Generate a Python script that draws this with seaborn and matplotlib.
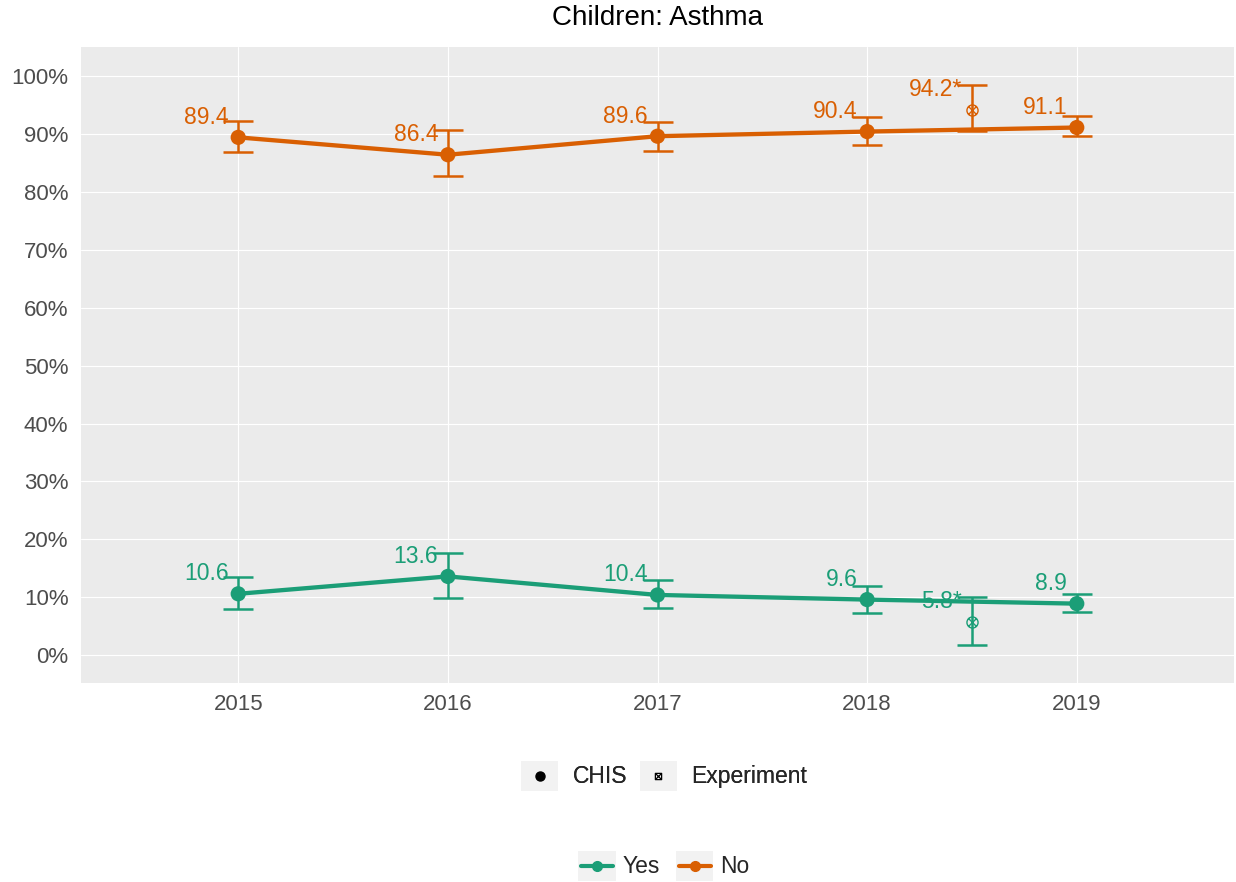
import numpy as np
import pandas as pd
import matplotlib
matplotlib.use("Agg")
import matplotlib.pyplot as plt
import seaborn as sns
from matplotlib.path import Path
from matplotlib.lines import Line2D
from matplotlib.patches import Rectangle
from matplotlib.legend_handler import HandlerBase

# ---- data -------------------------------------------------------------
years = [2015, 2016, 2017, 2018, 2019]
yes_vals = [10.6, 13.6, 10.4, 9.6, 8.9]
yes_lo = [7.9, 9.8, 8.1, 7.3, 7.4]
yes_hi = [13.5, 17.6, 13.0, 11.9, 10.5]
no_vals = [89.4, 86.4, 89.6, 90.4, 91.1]
no_lo = [86.9, 82.7, 87.0, 88.1, 89.6]
no_hi = [92.2, 90.7, 92.1, 92.9, 93.1]

exp_x = 2018.5
exp_yes = 5.8
exp_yes_ci = (1.7, 10.0)
exp_no = 94.2
exp_no_ci = (90.5, 98.4)

y_ticks = [0, 10, 20, 30, 40, 50, 60, 70, 80, 90, 100]
groups = ["Yes", "No"]
colors = {"Yes": "#1B9E77", "No": "#D95F02"}

df = pd.DataFrame({
    "year": years * 2,
    "pct": yes_vals + no_vals,
    "lo": yes_lo + no_lo,
    "hi": yes_hi + no_hi,
    "group": ["Yes"] * len(years) + ["No"] * len(years),
})

# ---- style ------------------------------------------------------------
sns.set_theme(style="darkgrid", rc={
    "axes.facecolor": "#EBEBEB",
    "grid.color": "white",
    "grid.linewidth": 0.8,
    "axes.edgecolor": "#EBEBEB",
})
plt.rcParams["font.family"] = ["Liberation Sans", "DejaVu Sans"]

TICK_FS = 16
LABEL_FS = 16.5
LEGEND_FS = 16.5
TITLE_FS = 20

DPI = 100
fig = plt.figure(figsize=(12.36, 8.82), dpi=DPI)
W, H = 1236, 882
ax = fig.add_axes([81 / W, 1 - 683 / H, (1234 - 81) / W, (683 - 47) / H])

# circle with a cross, used for the experiment estimates
circle_x = Path.make_compound_path(
    Path.unit_circle(),
    Path([(-0.707, -0.707), (0.707, 0.707)], [Path.MOVETO, Path.LINETO]),
    Path([(-0.707, 0.707), (0.707, -0.707)], [Path.MOVETO, Path.LINETO]),
)
square_x = Path([(-1, -1), (1, -1), (1, 1), (-1, 1), (-1, -1),
                 (-1, -1), (1, 1), (-1, 1), (1, -1)],
                [Path.MOVETO, Path.LINETO, Path.LINETO, Path.LINETO, Path.CLOSEPOLY,
                 Path.MOVETO, Path.LINETO, Path.MOVETO, Path.LINETO])

sns.lineplot(data=df, x="year", y="pct", hue="group", hue_order=groups,
             palette=colors, linewidth=3.1, legend=False, ax=ax, zorder=3)
sns.scatterplot(data=df, x="year", y="pct", hue="group", hue_order=groups,
                palette=colors, s=120, edgecolor="none", legend=False, ax=ax, zorder=4)

for g in groups:
    sub = df[df["group"] == g]
    ax.errorbar(sub["year"], sub["pct"],
                yerr=[sub["pct"] - sub["lo"], sub["hi"] - sub["pct"]],
                fmt="none", ecolor=colors[g], elinewidth=1.8, capsize=11,
                capthick=1.8, zorder=3)
    for x, v in zip(sub["year"], sub["pct"]):
        ax.annotate(f"{v:.1f}", (x, v), xytext=(-7, 14.5), textcoords="offset points",
                    ha="right", va="center", color=colors[g], fontsize=LABEL_FS, zorder=5)

for g, v, ci in [("Yes", exp_yes, exp_yes_ci), ("No", exp_no, exp_no_ci)]:
    ax.errorbar([exp_x], [v], yerr=[[v - ci[0]], [ci[1] - v]], fmt="none",
                ecolor=colors[g], elinewidth=1.8, capsize=11, capthick=1.8, zorder=3)
    ax.plot([exp_x], [v], linestyle="none", marker=circle_x, markersize=8,
            markerfacecolor="none", markeredgecolor=colors[g], markeredgewidth=1.0,
            zorder=4)
    ax.annotate(f"{v:.1f}*", (exp_x, v), xytext=(-7, 14.5), textcoords="offset points",
                ha="right", va="center", color=colors[g], fontsize=LABEL_FS, zorder=5)

ax.set_xlim(2014.25, 2019.75)
ax.set_ylim(-4.8, 105.0)
ax.set_xticks(years)
ax.set_xticklabels([str(y) for y in years])
ax.set_yticks(y_ticks)
ax.set_yticklabels([f"{t}%" for t in y_ticks])
ax.tick_params(axis="both", length=0, labelsize=TICK_FS, labelcolor="#4D4D4D")
ax.tick_params(axis="y", pad=9)
ax.tick_params(axis="x", pad=8)
ax.set_xlabel("")
ax.set_ylabel("")
ax.grid(True, which="major")
for s in ax.spines.values():
    s.set_visible(False)

fig.text((81 + 1234) / 2 / W, 1 - 18 / H, "Children: Asthma", ha="center",
         va="center", fontsize=TITLE_FS, color="black")


# ---- legends with grey key boxes ---------------------------------------
class BoxedKey(HandlerBase):
    def __init__(self, draw_line, color, marker, ms, mew=1.0, filled=True):
        super().__init__()
        self.draw_line = draw_line
        self.color = color
        self.marker = marker
        self.ms = ms
        self.mew = mew
        self.filled = filled

    def create_artists(self, legend, orig_handle, xdescent, ydescent, width,
                       height, fontsize, trans):
        box = Rectangle((-xdescent, -ydescent), width, height, facecolor="#F2F2F2",
                        edgecolor="none", transform=trans)
        arts = [box]
        cx = -xdescent + width / 2
        cy = -ydescent + height / 2
        if self.draw_line:
            ln = Line2D([-xdescent + 2, -xdescent + width - 2], [cy, cy],
                        color=self.color, linewidth=3.0, transform=trans)
            arts.append(ln)
        mk = Line2D([cx], [cy], linestyle="none", marker=self.marker,
                    markersize=self.ms, color=self.color,
                    markerfacecolor=self.color if self.filled else "none",
                    markeredgewidth=self.mew, transform=trans)
        arts.append(mk)
        return arts


h_chis = Line2D([], [], label="CHIS")
h_exp = Line2D([], [], label="Experiment")
leg1 = fig.legend(handles=[h_chis, h_exp], labels=["CHIS", "Experiment"],
                  loc="center", bbox_to_anchor=(664 / W, 1 - 776 / H), ncol=2,
                  frameon=False, fontsize=LEGEND_FS, handlelength=1.62, handleheight=1.62,
                  handletextpad=0.62, columnspacing=0.55,
                  handler_map={h_chis: BoxedKey(False, "black", "o", 6.5),
                               h_exp: BoxedKey(False, "black", square_x, 4.5,
                                               mew=0.9, filled=False)})

h_yes = Line2D([], [], label="Yes")
h_no = Line2D([], [], label="No")
leg2 = fig.legend(handles=[h_yes, h_no], labels=groups,
                  loc="center", bbox_to_anchor=(664 / W, 1 - 866 / H), ncol=2,
                  frameon=False, fontsize=LEGEND_FS, handlelength=1.62, handleheight=1.62,
                  handletextpad=0.3, columnspacing=0.72,
                  handler_map={h_yes: BoxedKey(True, colors["Yes"], "o", 7),
                               h_no: BoxedKey(True, colors["No"], "o", 7)})
fig.add_artist(leg1)

fig.savefig("out.png", dpi=DPI, facecolor="white")
